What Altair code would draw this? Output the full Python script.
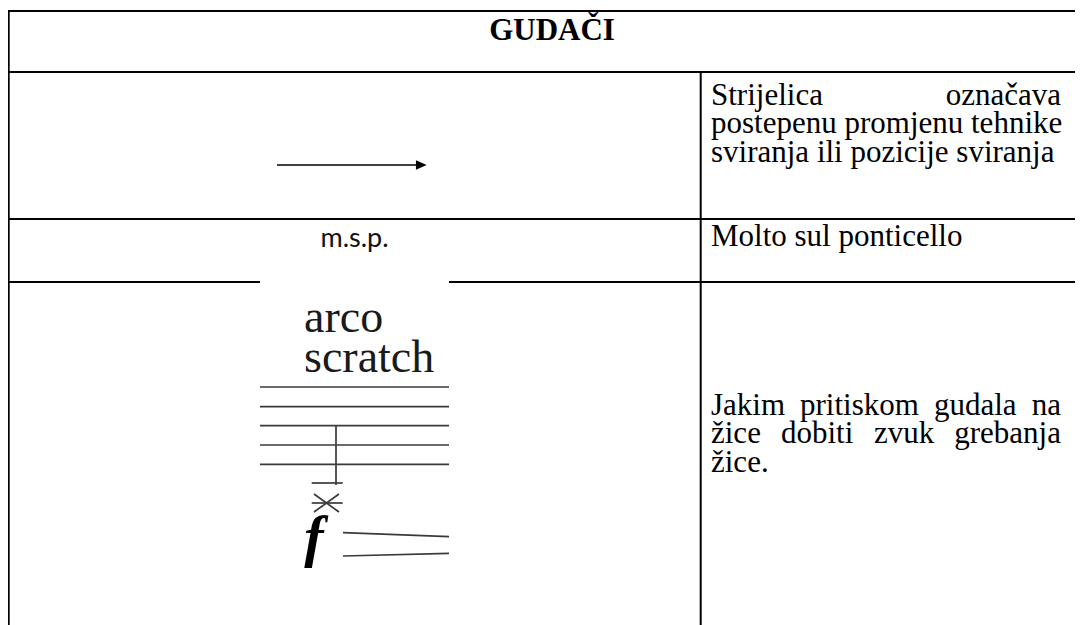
import altair as alt
import pandas as pd

# ---------------- content ----------------
title_text = ["GUDAČI"]

body_text = [
    "Strijelica", "označava",
    "postepenu promjenu tehnike",
    "sviranja ili pozicije sviranja",
    "Molto sul ponticello",
    "Jakim", "pritiskom", "gudala", "na",
    "žice", "dobiti", "zvuk", "grebanja",
    "žice.",
]
sans_text = ["m.s.p."]
score_text = ["arco", "scratch"]
dynamic_text = ["f"]

# ---------------- layout (page pixel coordinates) ----------------
body_x = [711, 1061, 711, 711, 711, 711, 800, 934, 1061, 711, 781, 874, 1061, 711]
body_y = [105, 105, 133.3, 161.7, 246, 415, 415, 415, 415, 443.3, 443.3, 443.3, 443.3, 471.7]
body_align = ["left", "right", "left", "left", "left", "left", "left", "left", "right",
              "left", "left", "left", "right", "left"]

# table borders: x1, y1, x2, y2
tab_x1 = [8, 8, 8, 8, 449, 8.7, 700.7]
tab_y1 = [11, 72, 219, 282, 282, 10, 72]
tab_x2 = [1083, 1083, 1083, 260, 1083, 8.7, 700.7]
tab_y2 = [11, 72, 219, 282, 282, 625, 625]

# music notation strokes
mus_x1 = [260, 260, 260, 260, 260, 336, 311.7, 311.7, 314, 314, 343, 343]
mus_y1 = [387, 406.7, 425.7, 445, 464.3, 425.7, 483, 503, 494, 512, 532.7, 556]
mus_x2 = [449, 449, 449, 449, 449, 336, 342.7, 342.7, 339, 339, 449, 449]
mus_y2 = [387, 406.7, 425.7, 445, 464.3, 485, 483, 503, 512, 494, 536.7, 553.3]

# arrow
arrow_x1, arrow_x2, arrow_y = [277], [418], [165]
arrow_head_x = [421.3]

SERIF = "Liberation Serif, Times New Roman, serif"

W, H = 1067, 617
xs = alt.Scale(domain=[8, 8 + W], range=[0, W], zero=False, nice=False)
ys = alt.Scale(domain=[8, 8 + H], range=[0, H], zero=False, nice=False)

def seg_df(x1, y1, x2, y2):
    return pd.DataFrame({"x1": x1, "y1": y1, "x2": x2, "y2": y2})

def rule_layer(df, color, width):
    return alt.Chart(df).mark_rule(color=color, strokeWidth=width).encode(
        x=alt.X("x1:Q", scale=xs, axis=None),
        y=alt.Y("y1:Q", scale=ys, axis=None),
        x2="x2:Q",
        y2="y2:Q",
    )

table = rule_layer(seg_df(tab_x1, tab_y1, tab_x2, tab_y2), "#000000", 2)
music = rule_layer(seg_df(mus_x1, mus_y1, mus_x2, mus_y2), "#3a3a3a", 1.7)
arrow_line = rule_layer(seg_df(arrow_x1, arrow_y, arrow_x2, arrow_y), "#000000", 1.4)

arrow_head = alt.Chart(pd.DataFrame({"x": arrow_head_x, "y": arrow_y})).mark_point(
    shape="M-1,-0.9L1,0L-1,0.9Z", filled=True, color="#000000", opacity=1, size=115
).encode(
    x=alt.X("x:Q", scale=xs, axis=None),
    y=alt.Y("y:Q", scale=ys, axis=None),
)

def text_layer(df, align, **kw):
    return alt.Chart(df).mark_text(align=align, baseline="alphabetic", **kw).encode(
        x=alt.X("x:Q", scale=xs, axis=None),
        y=alt.Y("y:Q", scale=ys, axis=None),
        text="t:N",
    )

title_df = pd.DataFrame({"t": title_text, "x": [552], "y": [40]})
title = text_layer(title_df, "center", font=SERIF, fontSize=31,
                   fontWeight="bold", color="#000000")

body_df = pd.DataFrame({"t": body_text, "x": body_x, "y": body_y, "a": body_align})
body_left = text_layer(body_df[body_df.a == "left"], "left",
                       font=SERIF, fontSize=31, color="#000000")
body_right = text_layer(body_df[body_df.a == "right"], "right",
                        font=SERIF, fontSize=31, color="#000000")

msp_df = pd.DataFrame({"t": sans_text, "x": [354.5], "y": [246.7]})
msp = text_layer(msp_df, "center", font="Lato", fontSize=27, color="#111111")

arco_df = pd.DataFrame({"t": score_text, "x": [304, 304], "y": [331.7, 371.7]})
arco = text_layer(arco_df, "left", font=SERIF, fontSize=46, color="#1a1a1a")

f_df = pd.DataFrame({"t": dynamic_text, "x": [314], "y": [556]})
fdyn = text_layer(f_df, "center", font=SERIF, fontSize=58,
                  fontWeight="bold", fontStyle="italic", color="#000000")

chart = alt.layer(
    table, music, arrow_line, arrow_head, title, body_left, body_right, msp, arco, fdyn
).properties(
    width=W, height=H, padding=0,
    autosize=alt.AutoSizeParams(type="none"),
    background="#ffffff",
).configure_view(stroke=None)

chart.save("out.html", embed_options={"renderer": "svg", "actions": False})
